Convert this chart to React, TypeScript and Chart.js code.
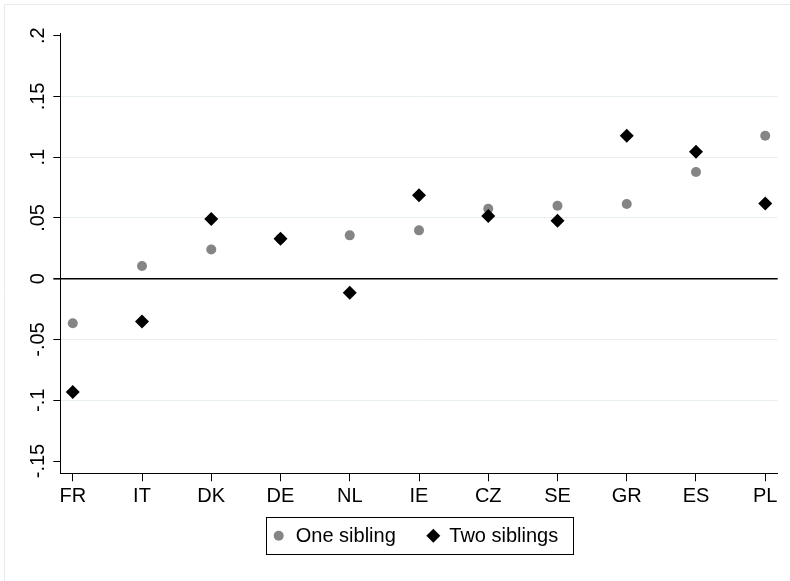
import React, { useEffect, useRef } from "react";
import { Chart, registerables } from "chart.js";

Chart.register(...registerables);

const COUNTRIES = ["FR", "IT", "DK", "DE", "NL", "IE", "CZ", "SE", "GR", "ES", "PL"];
const ONE_SIBLING = [-0.0367, 0.0105, 0.024, 0.033, 0.0357, 0.0398, 0.0576, 0.0601, 0.0615, 0.0878, 0.1177];
const TWO_SIBLINGS = [-0.0932, -0.0351, 0.0491, 0.0329, -0.0115, 0.0686, 0.0516, 0.0477, 0.1177, 0.1045, 0.062];
const Y_TICKS = [-0.15, -0.1, -0.05, 0, 0.05, 0.1, 0.15, 0.2];
const Y_TICK_LABELS = ["-.15", "-.1", "-.05", "0", ".05", ".1", ".15", ".2"];
const SERIES_LABELS = ["One sibling", "Two siblings"];

const FONT = '"Liberation Sans", Arial, Helvetica, sans-serif';
const GRAY = "#858585";
const GRID = "#e6eef1";

const decorPlugin = {
  id: "decor",
  beforeDraw(chart: any) {
    const ctx = chart.ctx;
    ctx.save();
    ctx.fillStyle = "#ffffff";
    ctx.fillRect(0, 0, chart.width, chart.height);
    ctx.strokeStyle = "#e4ecef";
    ctx.lineWidth = 1;
    ctx.beginPath();
    ctx.moveTo(4.5, chart.height);
    ctx.lineTo(4.5, 4.5);
    ctx.lineTo(chart.width, 4.5);
    ctx.stroke();
    ctx.restore();
  },
  afterDraw(chart: any) {
    const ctx = chart.ctx;
    const ys = chart.scales.y;
    const area = chart.chartArea;
    ctx.save();
    ctx.font = `20px ${FONT}`;
    ctx.fillStyle = "#000";
    ctx.textAlign = "center";
    ctx.textBaseline = "middle";
    Y_TICKS.forEach((v, i) => {
      const py = ys.getPixelForValue(v);
      ctx.save();
      ctx.translate(ys.right - 22, py);
      ctx.rotate(-Math.PI / 2);
      ctx.fillText(Y_TICK_LABELS[i], 0, 0);
      ctx.restore();
    });

    // legend
    const cx = (area.left + area.right) / 2;
    const boxW = 306.6;
    const boxH = 37;
    const bx = cx - boxW / 2;
    const by = area.bottom + 44;
    ctx.strokeStyle = "#000";
    ctx.lineWidth = 1;
    ctx.strokeRect(Math.round(bx) + 0.5, Math.round(by) + 0.5, Math.round(boxW), Math.round(boxH));
    const my = by + boxH / 2;
    ctx.textAlign = "left";
    ctx.textBaseline = "middle";
    ctx.fillStyle = GRAY;
    ctx.beginPath();
    ctx.arc(bx + 13, my, 5, 0, Math.PI * 2);
    ctx.fill();
    ctx.fillStyle = "#000";
    ctx.fillText(SERIES_LABELS[0], bx + 30, my + 1);
    const dx = bx + 167.6;
    ctx.beginPath();
    ctx.moveTo(dx, my - 7);
    ctx.lineTo(dx + 7, my);
    ctx.lineTo(dx, my + 7);
    ctx.lineTo(dx - 7, my);
    ctx.closePath();
    ctx.fill();
    ctx.fillText(SERIES_LABELS[1], bx + 183.6, my + 1);
    ctx.restore();
  },
};

export default function App() {
  const ref = useRef<HTMLCanvasElement>(null);
  useEffect(() => {
    if (!ref.current) return;
    const chart = new Chart(ref.current, {
      type: "scatter",
      data: {
        datasets: [
          {
            label: SERIES_LABELS[0],
            data: ONE_SIBLING.map((v, i) => ({ x: i, y: v })),
            pointStyle: "circle",
            pointRadius: 5,
            pointBackgroundColor: GRAY,
            pointBorderWidth: 0,
            order: 2,
          },
          {
            label: SERIES_LABELS[1],
            data: TWO_SIBLINGS.map((v, i) => ({ x: i, y: v })),
            pointStyle: "rectRot",
            pointRadius: 7,
            pointBackgroundColor: "#000",
            pointBorderWidth: 0,
            order: 1,
          },
        ],
      },
      options: {
        responsive: false,
        devicePixelRatio: 1,
        animation: false,
        layout: { padding: { top: 33, right: 12.3, left: 0, bottom: 0 } },
        plugins: { legend: { display: false }, tooltip: { enabled: false } },
        scales: {
          x: {
            type: "linear",
            min: -0.18,
            max: 10.18,
            afterBuildTicks: (scale: any) => {
              scale.ticks = COUNTRIES.map((_, i) => ({ value: i }));
            },
            afterFit: (scale: any) => {
              scale.height = 107.7;
            },
            grid: {
              drawOnChartArea: false,
              tickLength: 8,
              tickColor: "#000",
            },
            border: { display: true, color: "#000", width: 1 },
            ticks: {
              autoSkip: false,
              maxRotation: 0,
              minRotation: 0,
              padding: 3,
              color: "#000",
              font: { family: FONT, size: 20 },
              callback: (v: any) => COUNTRIES[v] ?? "",
            },
          },
          y: {
            type: "linear",
            min: -0.1601,
            max: 0.2022,
            afterBuildTicks: (scale: any) => {
              scale.ticks = Y_TICKS.map((v) => ({ value: v }));
            },
            afterFit: (scale: any) => {
              scale.width = 60.3;
            },
            grid: {
              tickLength: 7,
              tickColor: "#000",
              color: (c: any) => {
                const v = c.tick ? c.tick.value : null;
                if (v === 0) return "#000";
                if (v === 0.2 || v === -0.15) return "rgba(0,0,0,0)";
                return GRID;
              },
              lineWidth: (c: any) => (c.tick && c.tick.value === 0 ? 1.6 : 1),
            },
            border: { display: true, color: "#000", width: 1 },
            ticks: { display: false },
          },
        },
      },
      plugins: [decorPlugin],
    });
    return () => chart.destroy();
  }, []);
  return (
    <div style={{ position: "absolute", left: 0, top: 0, width: 790, height: 581 }}>
      <canvas ref={ref} width={790} height={581} style={{ display: "block" }} />
    </div>
  );
}
